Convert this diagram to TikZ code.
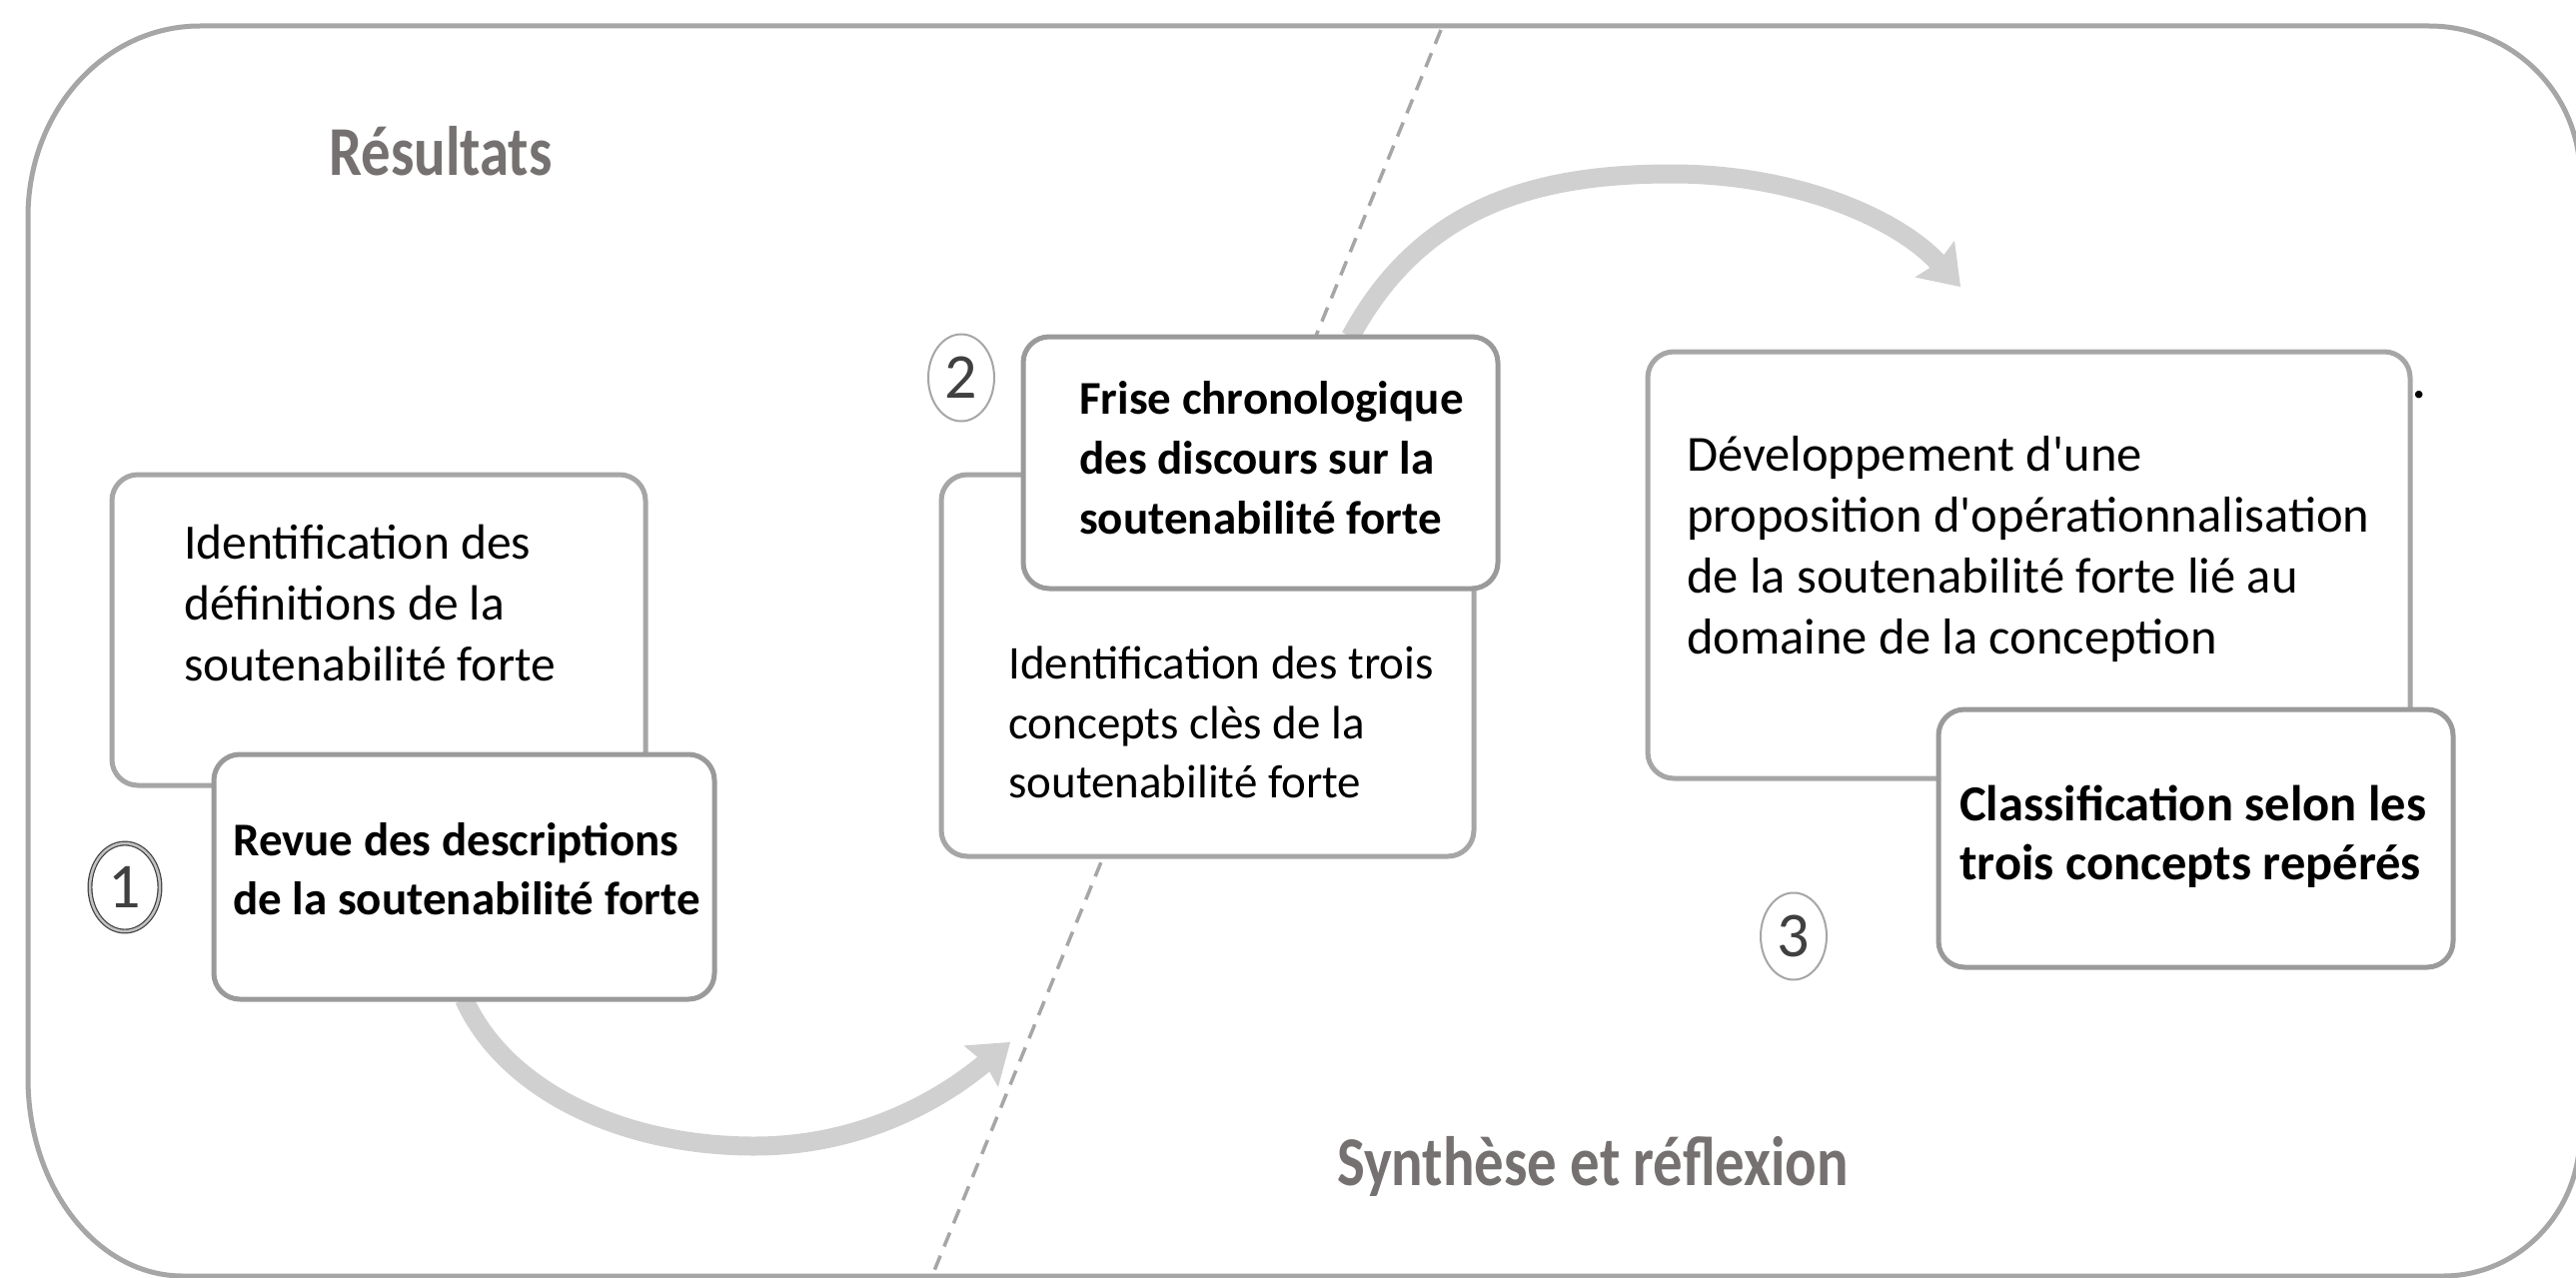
\documentclass[tikz,border=0pt]{standalone}
\usepackage{fontspec}
\setmainfont{Carlito}[Ligatures=TeXOff]
\newfontfamily\titlefont{Carlito}[FakeStretch=0.84]
\usetikzlibrary{shapes.geometric,arrows.meta,calc}
\definecolor{framegray}{HTML}{A6A6A6}
\definecolor{boxgray}{HTML}{9A9A9A}
\definecolor{arrowgray}{HTML}{D0D0D0}
\definecolor{titlegray}{HTML}{767171}
\definecolor{numgray}{HTML}{404040}
\begin{document}
\begin{tikzpicture}[x=1pt,y=-1pt,
  bgbox/.style={draw=framegray, line width=5pt, fill=white, rounded corners=26pt, inner sep=0pt},
  fgbox/.style={bgbox, draw=boxgray},
  bodytext/.style={inner sep=0pt, align=left, anchor=west, text=black},
  numring/.style={ellipse, draw=framegray, line width=2pt, inner sep=0pt,
    minimum width=66pt, minimum height=87pt, font=\fontsize{64}{64}\selectfont, text=numgray},
  flow/.style={draw=arrowgray, line width=19pt,
    -{Stealth[length=38pt,width=54pt,inset=5pt,line width=0pt]}},
  divider/.style={draw=framegray, line width=3.5pt, dash pattern=on 15pt off 10pt},
  titletext/.style={font=\titlefont\bfseries\fontsize{70}{70}\selectfont, text=titlegray, inner sep=0pt}]
\useasboundingbox (0,0) rectangle (2578,1279);
\fill[white] (0,0) rectangle (2578,1279);
% outer frame
\draw[framegray, line width=5pt]
  (28,1079) -- (28,217) .. controls (28,111) and (105,26) .. (200,26)
  -- (2431,26) .. controls (2514,26) and (2582,93) .. (2582,176)
  -- (2582,1135) .. controls (2582,1213) and (2521,1277) .. (2445,1277)
  -- (183,1277) .. controls (97,1277) and (28,1188) .. cycle;
% dashed divider
\coordinate (dtop) at (1442,30);
\coordinate (dbot) at (932,1279);
\draw[divider] (dtop) -- (dbot);
% arrow end points
\coordinate (a1end) at (1011,1043);
\coordinate (a2end) at (1962,287);
\coordinate (Bs) at (464.5,1000);
\coordinate (Cs) at (1351.5,337);
% arrows
\draw[flow] (Bs) .. controls (505,1090) and (620,1147) .. (755,1147)
  .. controls (850,1147) and (930,1110) .. (a1end);
\draw[flow] (Cs) .. controls (1420,210) and (1530,174) .. (1673,174)
  .. controls (1800,174) and (1900,220) .. (a2end);
% boxes
\node[bgbox, minimum width=534pt, minimum height=311pt] (A) at (379,630.5) {};
\node[fgbox, minimum width=501pt, minimum height=245pt] (B) at (464.5,877.5) {};
\node[bgbox, minimum width=533pt, minimum height=382pt] (D) at (1208.5,666) {};
\node[fgbox, minimum width=475pt, minimum height=252pt] (C) at (1261.5,463) {};
\node[bgbox, minimum width=763pt, minimum height=427pt] (E) at (2030.5,565.5) {};
\node[fgbox, minimum width=515pt, minimum height=258pt] (F) at (2197.5,839) {};
% texts
\node[bodytext, font=\fontsize{49.5}{61}\selectfont] (At) at (184,603)
  {Identification des\\définitions de la\\soutenabilité forte};
\node[bodytext, font=\bfseries\fontsize{47}{59}\selectfont] (Bt) at (233,870)
  {Revue des descriptions\\de la soutenabilité forte};
\node[bodytext, font=\bfseries\fontsize{47}{60}\selectfont] (Ct) at (1080,458)
  {Frise chronologique\\des discours sur la\\soutenabilité forte};
\node[bodytext, font=\fontsize{47}{59.5}\selectfont] (Dt) at (1009,723)
  {Identification des trois\\concepts clès de la\\soutenabilité forte};
\node[bodytext, font=\fontsize{50.5}{61}\selectfont] (Et) at (1688,550)
  {Développement d'une\\proposition d'opérationnalisation\\de la soutenabilité forte lié au\\domaine de la conception};
\node[bodytext, font=\bfseries\fontsize{50.5}{59.5}\selectfont] (Ft) at (1961,837)
  {Classification selon les\\trois concepts repérés};
\node[inner sep=0pt, anchor=base, font=\bfseries\fontsize{50}{50}\selectfont] (dot) at (2421,398) {.};
% numbers
\node[numring, draw=numgray, line width=1.2pt, double=framegray!70, double distance=2.5pt,
  minimum width=70pt, minimum height=88pt] (n1) at (125,888) {1};
\node[numring] (n2) at (962,378) {2};
\node[numring] (n3) at (1795,937) {3};
% titles
\node[titletext] (t1) at (441,151) {Résultats};
\node[titletext] (t2) at (1594,1167) {Synthèse et réflexion};
\end{tikzpicture}
\end{document}
